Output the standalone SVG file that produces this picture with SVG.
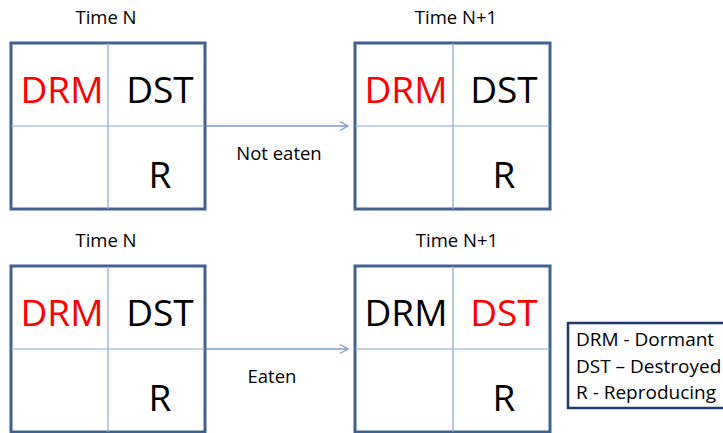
<svg xmlns="http://www.w3.org/2000/svg" width="723" height="433" viewBox="0 0 723 433">
<style>
.box{fill:#fff;stroke:#41618f;stroke-width:3}
.div{stroke:#8aa6cc;stroke-width:1.2;fill:none}
.big{font-family:"Open Sans","Liberation Sans",sans-serif;font-size:37px;text-anchor:middle}
.lbl{font-family:"Open Sans","Liberation Sans",sans-serif;font-size:18.5px;text-anchor:middle;fill:#000}
.leg{font-family:"Open Sans","Liberation Sans",sans-serif;font-size:19px;fill:#000}
.red{fill:#ff0000}
.blk{fill:#000}
.arr{stroke:#7f9ccb;stroke-width:1.3;fill:none}
</style>
<defs>
<marker id="ah" markerWidth="12" markerHeight="12" refX="10" refY="6" orient="auto" markerUnits="userSpaceOnUse">
<path d="M2,1.5 L10,6 L2,10.5" fill="none" stroke="#7f9ccb" stroke-width="1.3"/>
</marker>
</defs>
<g id="connectors">
<line class="arr" x1="205" y1="126" x2="348" y2="126" marker-end="url(#ah)"/>
<line class="arr" x1="205" y1="349" x2="348" y2="349" marker-end="url(#ah)"/>
<text class="lbl" x="279" y="160">Not eaten</text>
<text class="lbl" x="272" y="383">Eaten</text>
</g>
<g id="box1">
<text class="lbl" x="106" y="24">Time N</text>
<rect class="box" x="11" y="43" width="194" height="166"/>
<line class="div" x1="108" y1="43" x2="108" y2="209"/>
<line class="div" x1="11" y1="126" x2="205" y2="126"/>
<text class="big red" x="62" y="103">DRM</text>
<text class="big blk" x="160" y="103">DST</text>
<text class="big blk" x="160" y="188">R</text>
</g>
<g id="box2">
<text class="lbl" x="456" y="24">Time N+1</text>
<rect class="box" x="355" y="43" width="195" height="166"/>
<line class="div" x1="453" y1="43" x2="453" y2="209"/>
<line class="div" x1="355" y1="126" x2="550" y2="126"/>
<text class="big red" x="406" y="103">DRM</text>
<text class="big blk" x="504" y="103">DST</text>
<text class="big blk" x="504" y="188">R</text>
</g>
<g id="box3">
<text class="lbl" x="106" y="247">Time N</text>
<rect class="box" x="11" y="266" width="194" height="166"/>
<line class="div" x1="108" y1="266" x2="108" y2="432"/>
<line class="div" x1="11" y1="349" x2="205" y2="349"/>
<text class="big red" x="62" y="326">DRM</text>
<text class="big blk" x="160" y="326">DST</text>
<text class="big blk" x="160" y="411">R</text>
</g>
<g id="box4">
<text class="lbl" x="457" y="247">Time N+1</text>
<rect class="box" x="355" y="266" width="195" height="166"/>
<line class="div" x1="453" y1="266" x2="453" y2="432"/>
<line class="div" x1="355" y1="349" x2="550" y2="349"/>
<text class="big blk" x="406" y="326">DRM</text>
<text class="big red" x="504" y="326">DST</text>
<text class="big blk" x="504" y="411">R</text>
</g>
<g id="legend">
<rect x="568" y="323" width="165" height="85" fill="#fff" stroke="#1f3a6e" stroke-width="2.5"/>
<text class="leg" x="576" y="346">DRM - Dormant</text>
<text class="leg" x="576" y="373">DST – Destroyed</text>
<text class="leg" x="576" y="399">R - Reproducing</text>
</g>
</svg>
